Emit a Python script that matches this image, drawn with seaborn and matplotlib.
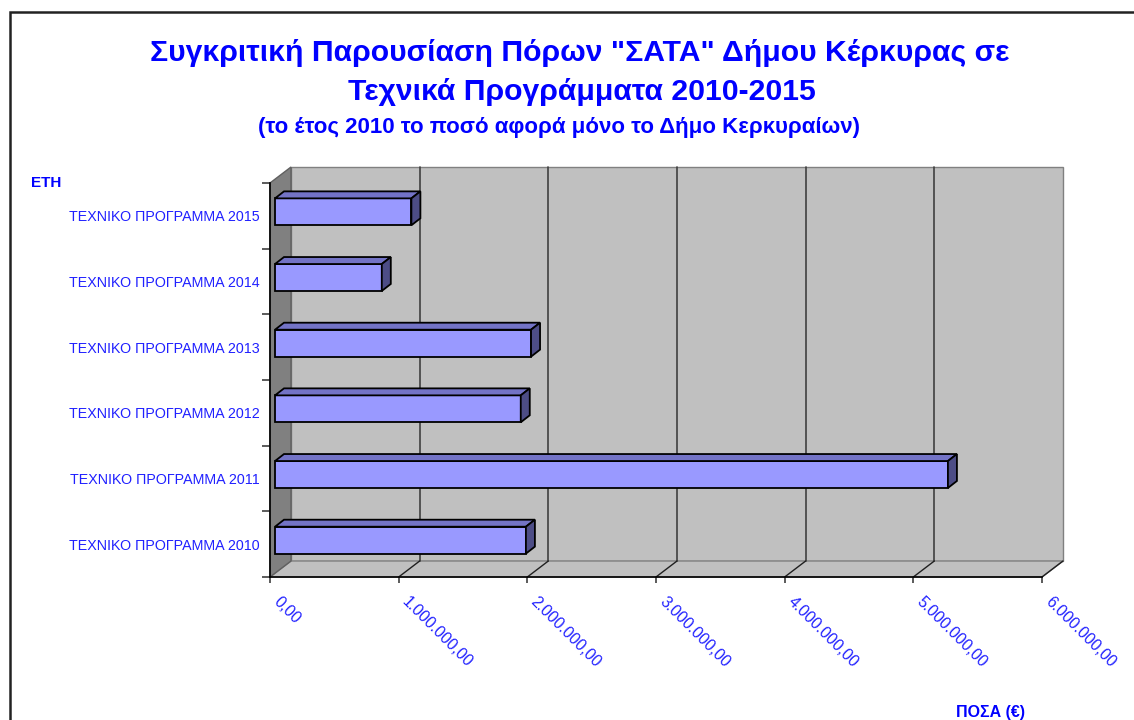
import matplotlib
matplotlib.use("Agg")
import matplotlib.pyplot as plt
from matplotlib.patches import Polygon, Rectangle
from matplotlib.transforms import ScaledTranslation
import seaborn as sns

# ---- data ----
categories = [
    "ΤΕΧΝΙΚΟ ΠΡΟΓΡΑΜΜΑ 2015",
    "ΤΕΧΝΙΚΟ ΠΡΟΓΡΑΜΜΑ 2014",
    "ΤΕΧΝΙΚΟ ΠΡΟΓΡΑΜΜΑ 2013",
    "ΤΕΧΝΙΚΟ ΠΡΟΓΡΑΜΜΑ 2012",
    "ΤΕΧΝΙΚΟ ΠΡΟΓΡΑΜΜΑ 2011",
    "ΤΕΧΝΙΚΟ ΠΡΟΓΡΑΜΜΑ 2010",
]
values = [1060000, 830000, 1990000, 1910000, 5230000, 1950000]
x_ticks = [0, 1000000, 2000000, 3000000, 4000000, 5000000, 6000000]
x_tick_labels = ["0,00", "1.000.000,00", "2.000.000,00", "3.000.000,00",
                 "4.000.000,00", "5.000.000,00", "6.000.000,00"]

title1 = 'Συγκριτική Παρουσίαση Πόρων "ΣΑΤΑ" Δήμου Κέρκυρας σε'
title2 = "Τεχνικά Προγράμματα 2010-2015"
subtitle = "(το έτος 2010 το ποσό αφορά μόνο το Δήμο Κερκυραίων)"
y_title = "ΕΤΗ"
x_title = "ΠΟΣΑ (€)"

sns.set_style("white")
plt.rcParams["font.family"] = ["Liberation Sans", "DejaVu Sans"]

BLUE = "#0000FF"
TICKBLUE = "#2020FF"

W, H = 1134, 720
fig = plt.figure(figsize=(W / 100, H / 100), dpi=100)
fig.patch.set_facecolor("white")

# outer frame (Excel chart border)
fig.add_artist(Rectangle((10 / W, -0.1), 1.2, (H - 12) / H + 0.1, transform=fig.transFigure,
                         fill=False, edgecolor="#222222", linewidth=1.8))

ax_l, ax_r, ax_t, ax_b = 270, 1042, 183, 577
ax = fig.add_axes([ax_l / W, (H - ax_b) / H, (ax_r - ax_l) / W, (ax_b - ax_t) / H])
ax.set_facecolor("none")

xmax = x_ticks[-1]
n = len(categories)
px_x = (ax_r - ax_l) / xmax          # pixels per unit x
px_y = (ax_b - ax_t) / n             # pixels per category

# depth offset of the back wall (pixels -> data)
DX = 21 / px_x
DY = -16 / px_y
ymin, ymax = -0.5, n - 0.5

wall_col = "#C0C0C0"
side_col = "#808080"
# back wall
ax.add_patch(Polygon([(DX, ymin + DY), (xmax + DX, ymin + DY), (xmax + DX, ymax + DY), (DX, ymax + DY)],
                     closed=True, facecolor=wall_col, edgecolor="#808080", lw=1, zorder=0, clip_on=False))
# floor
ax.add_patch(Polygon([(0, ymax), (xmax, ymax), (xmax + DX, ymax + DY), (DX, ymax + DY)],
                     closed=True, facecolor=wall_col, edgecolor="#808080", lw=1, zorder=0.5, clip_on=False))
# left wall
ax.add_patch(Polygon([(0, ymin), (0, ymax), (DX, ymax + DY), (DX, ymin + DY)],
                     closed=True, facecolor=side_col, edgecolor="#606060", lw=1, zorder=0.5, clip_on=False))
# gridlines on back wall and floor
for xv in x_ticks[1:-1]:
    ax.plot([xv + DX, xv + DX], [ymin + DY, ymax + DY], color="#404040", lw=1.2, zorder=0.6, clip_on=False)
for xv in x_ticks[1:]:
    ax.plot([xv, xv + DX], [ymax, ymax + DY], color="#202020", lw=1, zorder=0.6, clip_on=False)

# bars
sns.barplot(x=values, y=categories, order=categories, orient="h", color="#9999FF", saturation=1,
            width=0.41, edgecolor="black", linewidth=1.3, ax=ax, zorder=3)

bdx = 5 / px_x
bdy = -4 / px_y
ddx = 9 / px_x
ddy = -7 / px_y
for p in ax.patches:
    if not isinstance(p, Rectangle) or p.get_width() == 0:
        continue
    x0 = p.get_x() + bdx
    y0 = p.get_y() + bdy
    x1 = x0 + p.get_width()
    y1 = y0 + p.get_height()
    p.set_x(x0)
    p.set_y(y0)
    ax.add_patch(Polygon([(x0, y0), (x1, y0), (x1 + ddx, y0 + ddy), (x0 + ddx, y0 + ddy)], closed=True,
                         facecolor="#7373C6", edgecolor="black", lw=1.3, zorder=3.1, clip_on=False))
    ax.add_patch(Polygon([(x1, y0), (x1 + ddx, y0 + ddy), (x1 + ddx, y1 + ddy), (x1, y1)], closed=True,
                         facecolor="#4D4D86", edgecolor="black", lw=1.3, zorder=3.1, clip_on=False))

ax.set_xlim(0, xmax)
ax.set_ylim(ymax, ymin)
ax.set_xlabel("")
ax.set_ylabel("")

for s in ["top", "right"]:
    ax.spines[s].set_visible(False)
for s in ["left", "bottom"]:
    ax.spines[s].set_color("black")
    ax.spines[s].set_linewidth(1.2)
    ax.spines[s].set_zorder(2)

# y ticks: labels centred, tick marks at category boundaries
ax.set_yticks(range(n))
ax.set_yticklabels(categories, fontsize=10.3, color=TICKBLUE)
ax.set_yticks([i - 0.5 for i in range(n + 1)], minor=True)
ax.tick_params(axis="y", which="major", length=0, pad=7.5)
ax.tick_params(axis="y", which="minor", length=6, width=1.2, color="#404040", left=True)

# x ticks
ax.set_xticks(x_ticks)
ax.set_xticklabels(x_tick_labels, fontsize=11.3, color=TICKBLUE, rotation=-45,
                   ha="left", va="top", rotation_mode="anchor")
ax.tick_params(axis="x", which="major", length=4.5, width=1.2, color="#404040", bottom=True, pad=10)
shift = ScaledTranslation(11 / 100, 3 / 100, fig.dpi_scale_trans)
for lab in ax.get_xticklabels():
    lab.set_transform(lab.get_transform() + shift)

# titles
fig.text(580 / W, 1 - 53 / H, title1, ha="center", va="center", fontsize=21.7, fontweight="bold", color=BLUE)
fig.text(582 / W, 1 - 92 / H, title2, ha="center", va="center", fontsize=21.7, fontweight="bold", color=BLUE)
fig.text(559 / W, 1 - 127 / H, subtitle, ha="center", va="center", fontsize=16, fontweight="bold", color=BLUE)
fig.text(31 / W, 1 - 183 / H, y_title, ha="left", va="center", fontsize=11, fontweight="bold", color=BLUE)
fig.text(990 / W, 1 - 712 / H, x_title, ha="center", va="center", fontsize=11.5, fontweight="bold", color=BLUE)

fig.savefig("out.png", dpi=100)
